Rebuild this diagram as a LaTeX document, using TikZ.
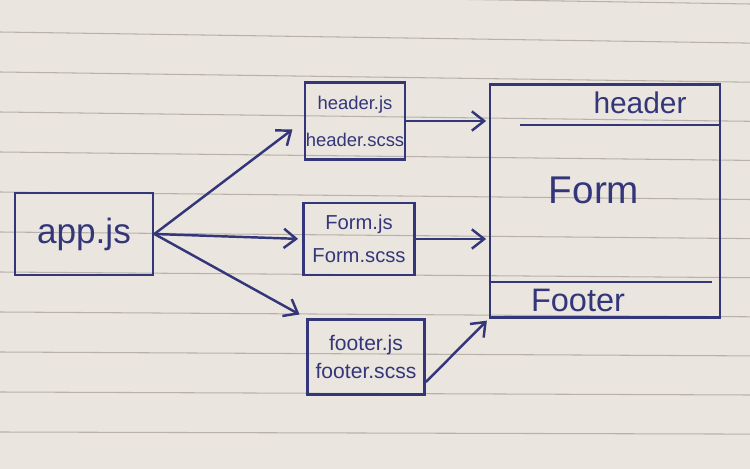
\documentclass[tikz,border=0pt]{standalone}
\usepackage{fontspec}
\setmainfont{Liberation Sans}
\usetikzlibrary{arrows.meta}
\definecolor{pen}{HTML}{34367A}
\definecolor{paper}{HTML}{EAE6DF}
\definecolor{rule}{HTML}{B7B1A9}

\begin{document}
\begin{tikzpicture}[x=0.02cm,y=-0.02cm,
  box/.style={draw=pen,line width=1.6pt,inner sep=0pt,text=pen,align=center},
  label/.style={text=pen,inner sep=0pt},
  link/.style={draw=pen,line width=1.4pt,-{Straight Barb[length=7pt,width=11pt]}}]

  % paper
  \useasboundingbox (0,0) rectangle (750,469);
  \begin{scope}
    \clip (0,0) rectangle (750,469);
    \fill[paper] (0,0) rectangle (750,469);
    \foreach \k in {0,...,11}
      \draw[rule,line width=0.6pt] (0,-8+40*\k) -- (750,4+39.1*\k);
  \end{scope}

  \node[box,minimum width=2.76cm,minimum height=1.64cm,font=\fontsize{20}{24}\selectfont] (app) at (84,234) {app.js};

  \node[box,minimum width=2cm,minimum height=1.54cm,font=\fontsize{10.5}{21}\selectfont] (hdr) at (355,121) {header.js\\header.scss};
  \node[box,minimum width=2.22cm,minimum height=1.44cm,font=\fontsize{11.5}{19}\selectfont] (frm) at (359,239) {Form.js\\Form.scss};
  \node[box,minimum width=2.34cm,minimum height=1.5cm,font=\fontsize{12}{16}\selectfont] (ftr) at (366,357) {footer.js\\footer.scss};

  \node[box,minimum width=4.6cm,minimum height=4.66cm] (page) at (605,201) {};
  \draw[pen,line width=1.6pt] (520,125) -- (page.east |- 0,125);
  \draw[pen,line width=1.6pt] (page.west |- 0,282) -- (712,282);
  \node[label,font=\fontsize{17}{20}\selectfont] (hlab) at (640,103) {header};
  \node[label,font=\fontsize{22}{26}\selectfont] (flab) at (594,190) {Form};
  \node[label,font=\fontsize{18.5}{22}\selectfont] (olab) at (578,300) {Footer};

  \draw[link,shorten >=0.28cm] (app.east) -- (hdr.west);
  \draw[link,shorten >=0.08cm] (app.east) -- (frm.west);
  \draw[link,shorten >=0.15cm] (app.east) -- (ftr.north west);

  \draw[link,shorten >=0.05cm] (hdr.east) -- (page.west |- hdr.east);
  \draw[link,shorten >=0.05cm] (frm.east) -- (page.west |- frm.east);
  \draw[link,shorten >=0.05cm] ([yshift=-0.5cm]ftr.east) -- (page.south west);

\end{tikzpicture}
\end{document}
